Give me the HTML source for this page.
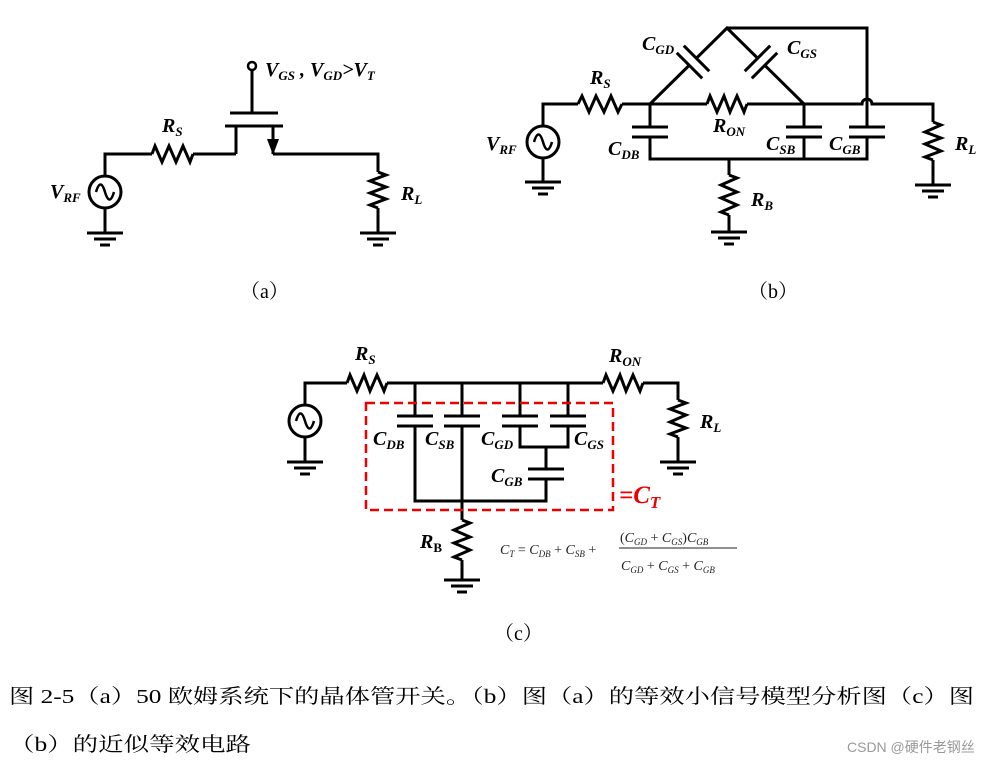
<!DOCTYPE html>
<html><head><meta charset="utf-8"><style>
html,body{margin:0;padding:0;background:#fff}
svg{display:block}
.l{font-family:"Liberation Serif",serif;font-weight:bold;font-style:italic;font-size:20px}
.s{font-size:13px}
.cap{font-family:"Liberation Serif","Noto Serif CJK SC",serif;font-size:20px}
</style></head><body>
<svg width="996" height="765" viewBox="0 0 996 765" xmlns="http://www.w3.org/2000/svg">
<g fill="none" stroke="#000" stroke-width="3">
<!-- (a) -->
<circle cx="252" cy="66" r="4" stroke-width="2.5"/>
<path d="M252 70V113M230 113H278M225 126H283M236 126V154M273 126V154"/>
<path d="M236 154H193M152 154H105V176M105 208V233M273 154H378V172M378 208V233"/>
<path d="M152 154 L155 146 L162 162 L169 146 L176 162 L183 146 L190 162 L193 154"/>
<path d="M378 172 L386 175 L370 181 L386 187 L370 193 L386 199 L370 205 L378 208"/>
<circle cx="105" cy="192" r="16"/>
<path d="M96 192c3-10 6-10 9 0s6 10 9 0" stroke-width="2.5"/>
<path d="M87 233H123M94 239H116M100 245H110M360 233H396M367 239H389M373 245H383"/>
<!-- (b) -->
<circle cx="543" cy="142" r="16"/>
<path d="M534 142c3-10 6-10 9 0s6 10 9 0" stroke-width="2.5"/>
<path d="M543 126V104H578M543 158V182M525 182H561M532 188H554M538 194H548"/>
<path d="M578 104 L582 96 L589 112 L596 96 L604 112 L611 96 L618 112 L622 104"/>
<path d="M622 104H707M747 104H804M707 104 L710 96 L717 112 L724 96 L730 112 L737 96 L744 112 L747 104"/>
<path d="M804 104H862A5 5 0 0 1 872 104H933V122M933 160V185M915 185H951M922 191H944M928 197H938"/>
<path d="M933 122 L941 125 L925 132 L941 138 L925 144 L941 151 L925 157 L933 160"/>
<path d="M650 104L727 28L804 104M727 28H867V127"/>
<path d="M650 104V127M650 137V159H867V137M804 104V127M804 137V159"/>
<path d="M632 127H668M632 137H668M786 127H822M786 137H822M849 127H885M849 137H885"/>
<path d="M729 159V175M729 215V232M711 232H747M718 238H740M724 244H734"/>
<path d="M729 175 L737 178 L721 185 L737 192 L721 198 L737 205 L721 212 L729 215"/>
<g transform="rotate(-45 693 62)"><rect x="688" y="58" width="10" height="8" fill="#fff" stroke="none"/><path d="M688 44V80M698 44V80"/></g>
<g transform="rotate(45 761 62)"><rect x="756" y="58" width="10" height="8" fill="#fff" stroke="none"/><path d="M756 44V80M766 44V80"/></g>
<!-- (c) -->
<circle cx="305" cy="421" r="16"/>
<path d="M296 421c3-10 6-10 9 0s6 10 9 0" stroke-width="2.5"/>
<path d="M305 405V383H347M305 437V462M287 462H323M294 468H316M300 474H310"/>
<path d="M347 383 L350 375 L357 391 L364 375 L370 391 L377 375 L384 391 L387 383"/>
<path d="M387 383H603M643 383H678V400M678 437V462M660 462H696M667 468H689M673 474H683"/>
<path d="M603 383 L606 375 L613 391 L620 375 L626 391 L633 375 L640 391 L643 383"/>
<path d="M678 400 L686 403 L670 409 L686 415 L670 422 L686 428 L670 434 L678 437"/>
<path d="M415 383V416M462 383V416M520 383V416M568 383V416"/>
<path d="M397 416H433M397 426H433M444 416H480M444 426H480M502 416H538M502 426H538M550 416H586M550 426H586"/>
<path d="M415 426V501H546V479M462 426V520M520 426V447H568V426M546 447V469M528 469H564M528 479H564"/>
<path d="M462 520 L470 523 L454 530 L470 537 L454 543 L470 550 L454 557 L462 560"/>
<path d="M462 560V580M444 580H480M451 586H473M457 592H467"/>
<rect x="366" y="403" width="247" height="107" stroke="#e00" stroke-width="2.5" stroke-dasharray="9 5"/>
</g>
<path d="M267 139L279 139L273 155Z" fill="#000"/>
<g class="l">
<text x="265" y="76">V<tspan class="s" dy="4">GS</tspan><tspan dy="-4"> , V</tspan><tspan class="s" dy="4">GD</tspan><tspan dy="-4">&gt;V</tspan><tspan class="s" dy="4">T</tspan></text>
<text x="162" y="132">R<tspan class="s" dy="4">S</tspan></text>
<text x="50" y="198">V<tspan class="s" dy="4">RF</tspan></text>
<text x="401" y="200">R<tspan class="s" dy="4">L</tspan></text>
<text x="590" y="84">R<tspan class="s" dy="4">S</tspan></text>
<text x="642" y="50">C<tspan class="s" dy="4">GD</tspan></text>
<text x="787" y="54">C<tspan class="s" dy="4">GS</tspan></text>
<text x="486" y="150">V<tspan class="s" dy="4">RF</tspan></text>
<text x="713" y="132">R<tspan class="s" dy="4">ON</tspan></text>
<text x="608" y="155">C<tspan class="s" dy="4">DB</tspan></text>
<text x="766" y="150">C<tspan class="s" dy="4">SB</tspan></text>
<text x="829" y="150">C<tspan class="s" dy="4">GB</tspan></text>
<text x="955" y="150">R<tspan class="s" dy="4">L</tspan></text>
<text x="751" y="206">R<tspan class="s" dy="4">B</tspan></text>
<text x="355" y="360">R<tspan class="s" dy="4">S</tspan></text>
<text x="609" y="362">R<tspan class="s" dy="4">ON</tspan></text>
<text x="700" y="428">R<tspan class="s" dy="4">L</tspan></text>
<text x="373" y="445">C<tspan class="s" dy="4">DB</tspan></text>
<text x="425" y="445">C<tspan class="s" dy="4">SB</tspan></text>
<text x="481" y="445">C<tspan class="s" dy="4">GD</tspan></text>
<text x="574" y="445">C<tspan class="s" dy="4">GS</tspan></text>
<text x="491" y="482">C<tspan class="s" dy="4">GB</tspan></text>
<text x="420" y="548">R<tspan style="font-style:normal" class="s" dy="4">B</tspan></text>
<text x="619" y="503" fill="#e00" style="font-size:25px">=C<tspan style="font-size:17px" dy="5">T</tspan></text>
</g>
<g font-family="Liberation Serif,serif" font-style="italic" font-size="14" fill="#222">
<text x="500" y="554">C<tspan font-size="9" dy="3">T</tspan><tspan dy="-3" font-style="normal"> = </tspan>C<tspan font-size="9" dy="3">DB</tspan><tspan dy="-3" font-style="normal"> + </tspan>C<tspan font-size="9" dy="3">SB</tspan><tspan dy="-3" font-style="normal"> +</tspan></text>
<text x="620" y="542"><tspan font-style="normal">(</tspan>C<tspan font-size="9" dy="3">GD</tspan><tspan dy="-3" font-style="normal"> + </tspan>C<tspan font-size="9" dy="3">GS</tspan><tspan dy="-3" font-style="normal">)</tspan>C<tspan font-size="9" dy="3">GB</tspan></text>
<text x="621" y="570">C<tspan font-size="9" dy="3">GD</tspan><tspan dy="-3" font-style="normal"> + </tspan>C<tspan font-size="9" dy="3">GS</tspan><tspan dy="-3" font-style="normal"> + </tspan>C<tspan font-size="9" dy="3">GB</tspan></text>
</g>
<line x1="619" y1="548" x2="737" y2="548" stroke="#222" stroke-width="1"/>
<g class="cap">
<text x="240" y="298">（a）</text>
<text x="748" y="298">（b）</text>
<text x="494" y="640">（c）</text>
<text x="9" y="703" textLength="965" lengthAdjust="spacingAndGlyphs">图 2-5（a）50 欧姆系统下的晶体管开关。（b）图（a）的等效小信号模型分析图（c）图</text>
<text x="9" y="751" textLength="242" lengthAdjust="spacingAndGlyphs">（b）的近似等效电路</text>
</g>
<text x="847" y="752" font-family="Liberation Sans,Noto Sans CJK SC,sans-serif" font-size="14" fill="#999">CSDN @硬件老钢丝</text>
</svg>
</body></html>
